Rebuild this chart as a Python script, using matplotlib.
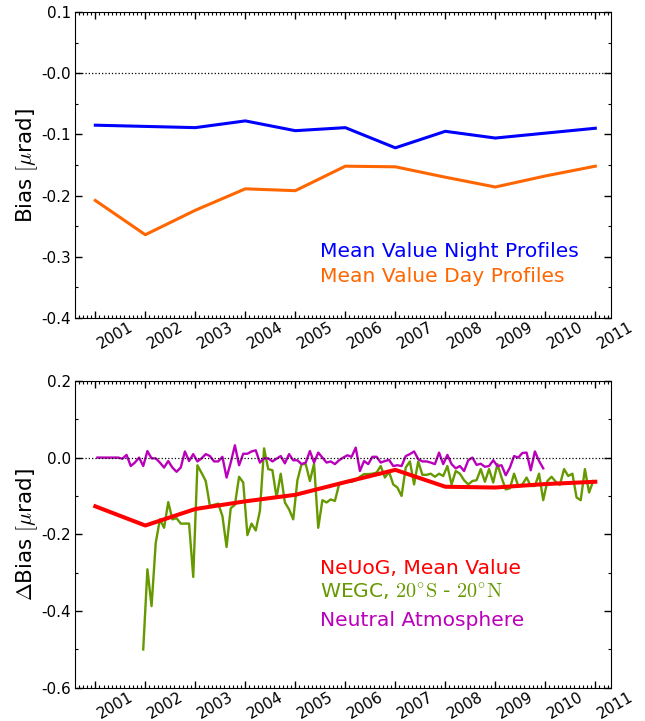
import numpy as np
import matplotlib
matplotlib.use('Agg')
import matplotlib.pyplot as plt
from matplotlib.ticker import FixedLocator, MultipleLocator

plt.rcParams['mathtext.fontset'] = 'cm'

# yearly mean values
years = [2001, 2002, 2003, 2004, 2005, 2006, 2007, 2008, 2009, 2010, 2011]
year_labels = [str(y) for y in years]
night_bias = [-0.085, -0.087, -0.089, -0.078, -0.094, -0.089, -0.122, -0.095, -0.106, -0.098, -0.090]
day_bias = [-0.208, -0.264, -0.224, -0.189, -0.192, -0.152, -0.153, -0.170, -0.186, -0.168, -0.152]
neuog_dbias = [-0.127, -0.177, -0.134, -0.114, -0.097, -0.064, -0.032, -0.076, -0.078, -0.069, -0.063]

# monthly values, neutral atmosphere from Jan 2001, WEGC from Dec 2001
neutral_start = 0
neutral_dbias = [0.0, 0.0, 0.0, 0.0, 0.0, 0.0, -0.003, 0.007, -0.022, -0.013,
                 0.0, -0.022, 0.017, -0.002, -0.002, -0.013, -0.026, -0.009, -0.026, -0.037,
                 -0.026, 0.016, -0.009, 0.009, -0.010, -0.002, 0.009, 0.004, -0.010, -0.010,
                 0.002, -0.052, -0.013, 0.032, -0.020, 0.010, 0.010, 0.016, 0.019, -0.013,
                 -0.002, -0.002, -0.010, -0.003, 0.004, -0.015, 0.009, -0.007, -0.007, -0.017,
                 -0.013, 0.017, -0.013, 0.013, 0.0, -0.013, -0.010, -0.017, -0.007, 0.0,
                 0.006, 0.002, 0.026, -0.035, -0.009, -0.017, 0.002, 0.002, -0.013, -0.009,
                 -0.006, -0.022, -0.020, -0.022, 0.004, 0.009, 0.016, -0.004, -0.010, -0.010,
                 -0.013, -0.017, 0.013, -0.017, 0.007, -0.017, -0.028, -0.022, -0.035, -0.007,
                 0.0, -0.019, -0.016, -0.024, -0.022, -0.007, -0.022, -0.020, -0.046, -0.026,
                 0.004, 0.0, 0.012, 0.013, -0.033, 0.016, -0.009, -0.028]
wegc_start = 11
wegc_dbias = [-0.500, -0.291, -0.387, -0.222, -0.161, -0.183, -0.116, -0.161, -0.158, -0.172,
              -0.172, -0.172, -0.311, -0.020, -0.040, -0.061, -0.126, -0.123, -0.120, -0.152,
              -0.233, -0.132, -0.123, -0.050, -0.065, -0.202, -0.172, -0.190, -0.139, 0.024,
              -0.030, -0.033, -0.104, -0.042, -0.117, -0.135, -0.161, -0.059, -0.017, -0.017,
              -0.061, -0.016, -0.183, -0.111, -0.117, -0.109, -0.113, -0.070, -0.065, -0.061,
              -0.063, -0.059, -0.050, -0.043, -0.043, -0.042, -0.039, -0.022, -0.052, -0.037,
              -0.070, -0.078, -0.100, -0.026, -0.010, -0.070, -0.010, -0.045, -0.045, -0.042,
              -0.050, -0.042, -0.048, -0.022, -0.070, -0.035, -0.042, -0.059, -0.070, -0.061,
              -0.059, -0.030, -0.063, -0.030, -0.065, -0.017, -0.052, -0.083, -0.080, -0.042,
              -0.074, -0.070, -0.052, -0.074, -0.074, -0.042, -0.111, -0.061, -0.050, -0.063,
              -0.071, -0.030, -0.048, -0.042, -0.104, -0.111, -0.030, -0.091, -0.061]

top_yticks = [0.1, 0.0, -0.1, -0.2, -0.3, -0.4]
top_ylabels = ['0.1', '-0.0', '-0.1', '-0.2', '-0.3', '-0.4']
bot_yticks = [0.2, 0.0, -0.2, -0.4, -0.6]
bot_ylabels = ['0.2', '0.0', '-0.2', '-0.4', '-0.6']


def month_axis(start, n):
    return years[0] + (start + np.arange(n) + 0.5) / 12.0


def style_axes(ax, yticks, ylabels, yminor):
    ax.set_xlim(2000.59, 2011.31)
    ax.set_ylim(yticks[-1], yticks[0])
    ax.xaxis.set_major_locator(FixedLocator(years))
    ax.xaxis.set_minor_locator(MultipleLocator(1 / 12.0))
    ax.set_xticklabels(year_labels, rotation=30, ha='left', fontsize=11)
    ax.yaxis.set_major_locator(FixedLocator(yticks))
    ax.yaxis.set_minor_locator(MultipleLocator(yminor))
    ax.set_yticklabels(ylabels, fontsize=11)
    ax.tick_params(which='both', direction='in', top=True, right=True)
    ax.tick_params(which='major', length=5, width=1)
    ax.tick_params(which='minor', length=2.5, width=0.8)
    ax.tick_params(axis='x', which='major', pad=1)
    ax.tick_params(axis='y', which='major', pad=3)
    ax.axhline(0, color='black', ls=':', lw=0.9)


fig = plt.figure(figsize=(6.45, 7.21), dpi=100)
ax1 = fig.add_axes([0.116, 0.559, 0.831, 0.4244])
ax2 = fig.add_axes([0.116, 0.046, 0.831, 0.4258])

# top panel: night / day profiles
ax1.plot(years, night_bias, color='#0000ff', lw=2.2)
ax1.plot(years, day_bias, color='#ff6600', lw=2.2)
style_axes(ax1, top_yticks, top_ylabels, 0.05)
ax1.set_ylabel(r'Bias $[\mu$rad]', fontsize=15.5, labelpad=1)
ax1.text(0.457, 0.20, 'Mean Value Night Profiles', color='#0000ff', fontsize=14.6,
         transform=ax1.transAxes)
ax1.text(0.457, 0.119, 'Mean Value Day Profiles', color='#ff6600', fontsize=14.6,
         transform=ax1.transAxes)

# bottom panel: differences
ax2.plot(month_axis(wegc_start, len(wegc_dbias)), wegc_dbias, color='#669900', lw=1.7)
ax2.plot(month_axis(neutral_start, len(neutral_dbias)), neutral_dbias, color='#bb00bb', lw=1.7)
ax2.plot(years, neuog_dbias, color='#ff0000', lw=2.9)
style_axes(ax2, bot_yticks, bot_ylabels, 0.1)
ax2.set_ylabel(r'$\Delta$Bias $[\mu$rad]', fontsize=15.5, labelpad=1)
ax2.text(0.457, 0.372, 'NeUoG, Mean Value', color='#ff0000', fontsize=14.6,
         transform=ax2.transAxes)
ax2.text(0.457, 0.29, r'WEGC, $\mathrm{20^{\circ}S}$ - $\mathrm{20^{\circ}N}$', color='#669900',
         fontsize=14.6, transform=ax2.transAxes)
ax2.text(0.457, 0.202, 'Neutral Atmosphere', color='#bb00bb', fontsize=14.6,
         transform=ax2.transAxes)

fig.savefig('out.png', dpi=100)
